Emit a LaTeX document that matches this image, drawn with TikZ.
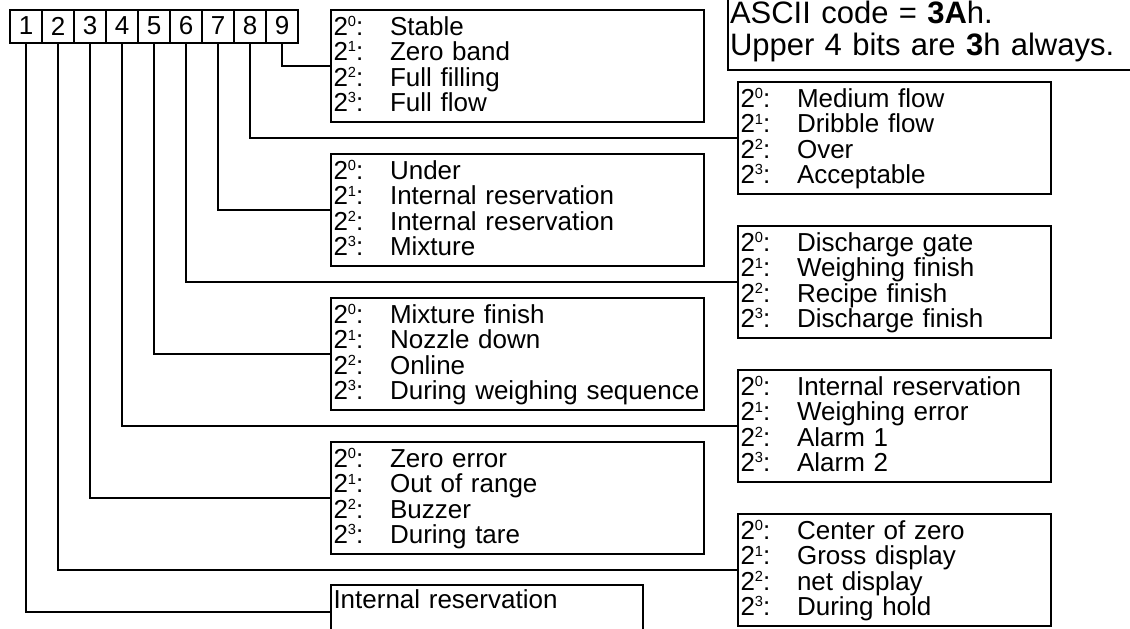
\documentclass[tikz,border=0pt]{standalone}
\usepackage{fontspec}
\setmainfont{Liberation Sans}
\newcommand\bt[1]{\makebox[42.4pt][l]{2\raisebox{6.5pt}{\fontsize{11pt}{11pt}\selectfont #1}:}}
\newcommand\topstrut{\rule{0pt}{15.5pt}}
\newcommand\botstrut{\rule[-4.5pt]{0pt}{4.5pt}}
\newcommand\four[4]{\topstrut\bt{0}#1\\\bt{1}#2\\\bt{2}#3\\\bt{3}#4\botstrut}
\tikzset{
  lbl/.style={draw, line width=1.5pt, anchor=north west, inner xsep=1.875pt, inner ysep=0pt,
    align=left, font=\fontsize{19.5pt}{19pt}\selectfont, minimum height=84pt},
  lbox/.style={lbl, text width=276pt},
  rbox/.style={lbl, text width=231pt},
  digit/.style={draw, line width=1.5pt, anchor=north west, minimum width=24pt,
    minimum height=24.75pt, inner sep=0pt, font=\fontsize{19.5pt}{20pt}\selectfont},
  conn/.style={line width=1.5pt},
}
\begin{document}
\begin{tikzpicture}[x=0.75pt, y=-0.75pt]
\useasboundingbox (0,0) rectangle (1130,628);
\clip (0,0) rectangle (1130,628);
\foreach \i in {1,...,9} \node[digit] (d\i) at ({9+32*(\i-1)}, 8.5) {\i};
% left column
\node[lbox] (b9) at (330,9)   {\four{Stable}{Zero band}{Full filling}{Full flow}};
\node[lbox] (b7) at (330,153) {\four{Under}{Internal reservation}{Internal reservation}{Mixture}};
\node[lbox] (b5) at (330,297) {\four{Mixture finish}{Nozzle down}{Online}{During weighing sequence}};
\node[lbox] (b3) at (330,441) {\four{Zero error}{Out of range}{Buzzer}{During tare}};
\node[draw, line width=1.5pt, anchor=north west, inner xsep=1.875pt, inner ysep=0pt,
  text width=230.25pt, align=left, font=\fontsize{19.5pt}{20pt}\selectfont] (b1) at (330,584)
  {\rule{0pt}{17.25pt}Internal reservation\rule[-23.25pt]{0pt}{23.25pt}};
% right column
\node[rbox] (b8) at (737,81)  {\four{Medium flow}{Dribble flow}{Over}{Acceptable}};
\node[rbox] (b6) at (737,225) {\four{Discharge gate}{Weighing finish}{Recipe finish}{Discharge finish}};
\node[rbox] (b4) at (737,369) {\four{Internal reservation}{Weighing error}{Alarm 1}{Alarm 2}};
\node[rbox] (b2) at (737,513) {\four{Center of zero}{Gross display}{net display}{During hold}};
% ASCII note
\node[draw, line width=1.5pt, anchor=south west, inner xsep=1.5pt, inner ysep=0pt,
  text width=330pt, align=left, font=\fontsize{23.25pt}{24pt}\selectfont] (note) at (727,71)
  {\rule{0pt}{30pt}ASCII code = \textbf{3A}h.\\Upper 4 bits are \textbf{3}h always.\rule[-11.25pt]{0pt}{11.25pt}};
% connectors
\foreach \i in {1,...,9} \draw[conn] (d\i.south) |- (b\i.west);
\end{tikzpicture}
\end{document}
